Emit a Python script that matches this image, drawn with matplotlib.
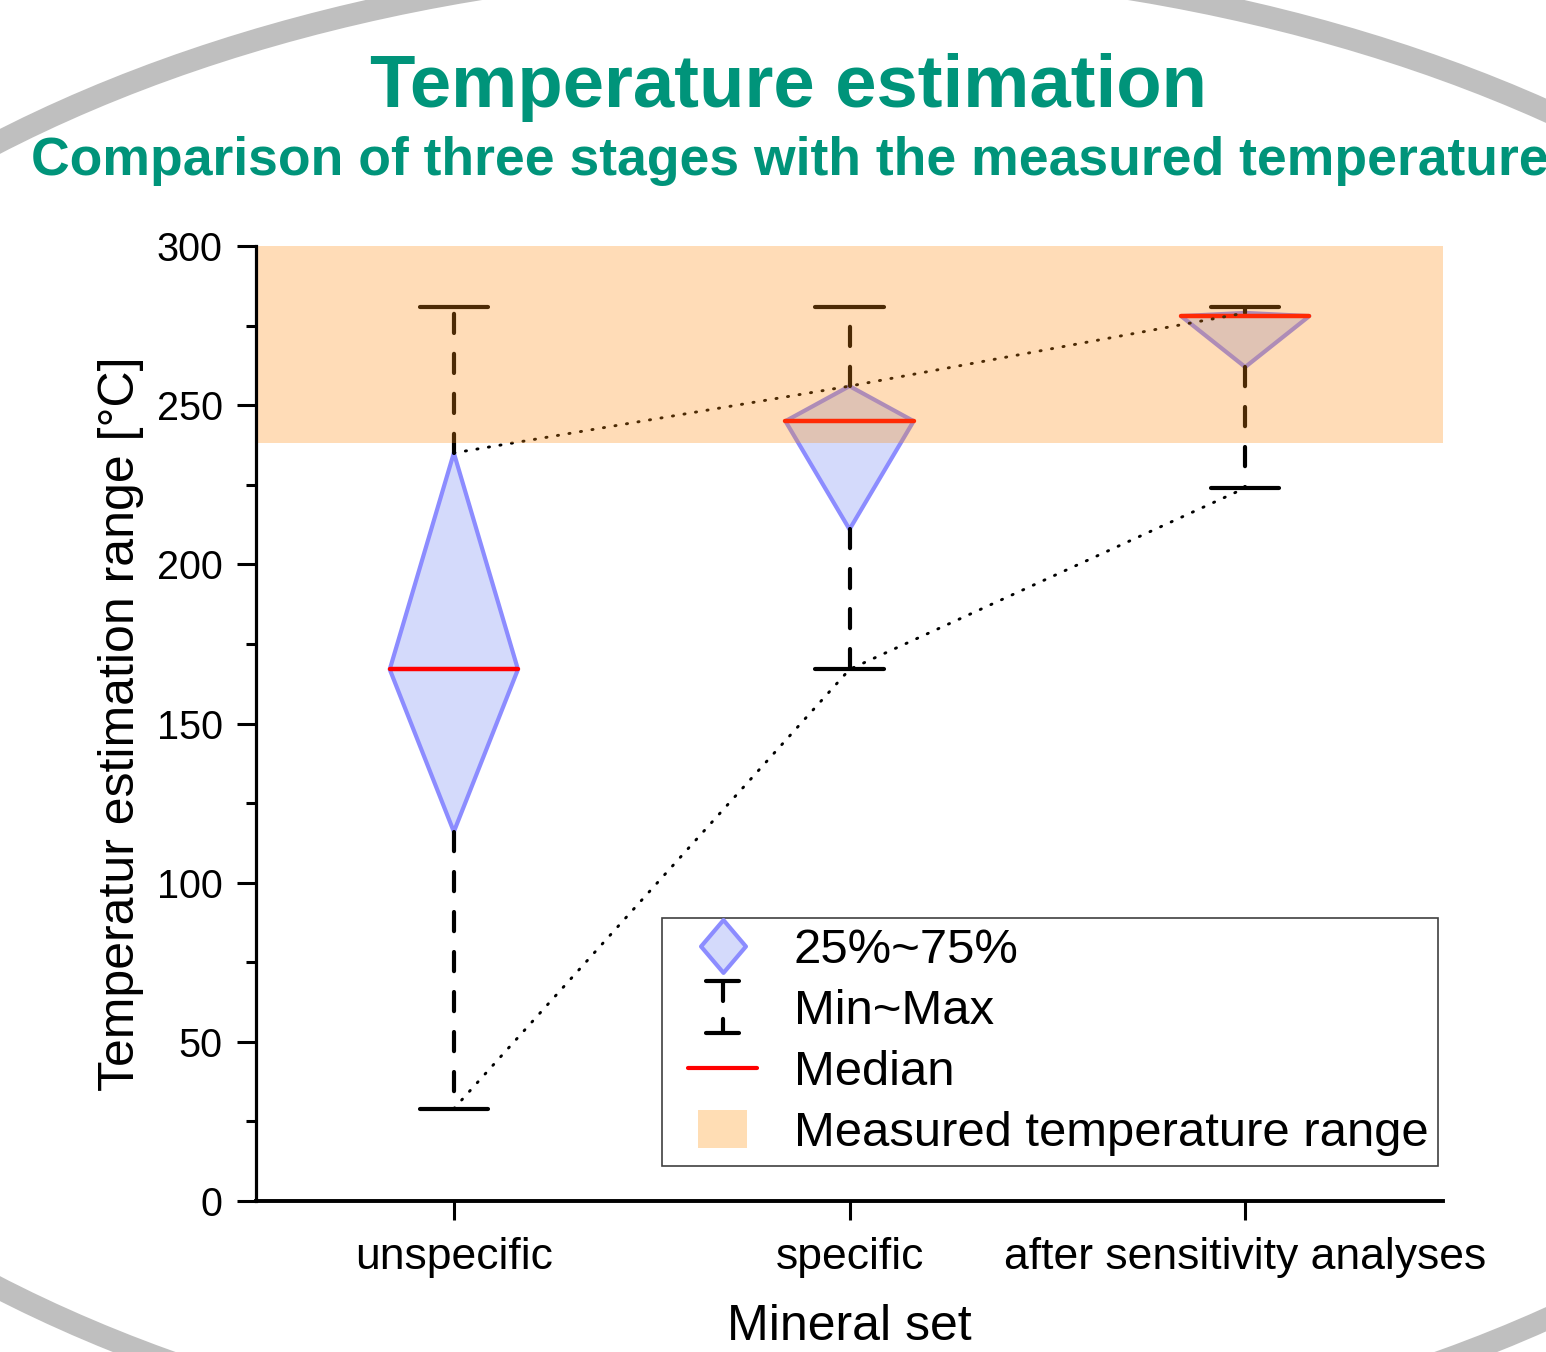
import matplotlib.pyplot as plt
import numpy as np
from matplotlib.patches import Ellipse, Rectangle, Patch
from matplotlib.lines import Line2D
from matplotlib.path import Path
from matplotlib.legend_handler import HandlerBase, HandlerPatch

plt.rcParams['font.family'] = ['Liberation Sans', 'DejaVu Sans']

# estimated temperatures [°C] for each mineral set
stages = ["unspecific", "specific", "after sensitivity analyses"]
t_min = [29, 167, 224]
q1 = [116, 211, 262]
median = [167, 245, 278]
q3 = [235, 256, 279]
t_max = [281, 281, 281]
measured = [238, 300]

teal = "#00947A"
box_face = "#D4DAFB"
box_edge = "#8C8CFF"
band_rgb = (1.0, 0.557, 0.067)


class MinMaxHandler(HandlerBase):
    # whisker symbol: top cap, dashed stem, bottom cap
    def create_artists(self, legend, orig_handle, xdescent, ydescent,
                       width, height, fontsize, trans):
        cx = width / 2 - xdescent
        cy = height / 2 - ydescent
        h, c = 18.5, 12
        kw = dict(color="black", lw=3, solid_capstyle="round", transform=trans)
        top = Line2D([cx - c, cx + c], [cy + h, cy + h], **kw)
        bot = Line2D([cx - c, cx + c], [cy - h, cy - h], **kw)
        stem = Line2D([cx, cx], [cy + h, cy - h], color="black", lw=3,
                      ls=(0, (4.8, 4.3)), dash_capstyle="round", transform=trans)
        return [top, stem, bot]


class MedianHandler(HandlerBase):
    # short red line centred in the handle box
    def create_artists(self, legend, orig_handle, xdescent, ydescent,
                       width, height, fontsize, trans):
        cx = width / 2 - xdescent
        cy = height / 2 - ydescent
        return [Line2D([cx - 24.8, cx + 24.8], [cy, cy], color="red", lw=3,
                       solid_capstyle="round", transform=trans)]


def band_patch(legend, orig_handle, xdescent, ydescent, width, height, fontsize):
    cx = width / 2 - xdescent
    cy = height / 2 - ydescent
    return Rectangle((cx - 17.6, cy - 13.7), 35.2, 27.4)


fig = plt.figure(figsize=(15.46, 13.52), dpi=100)
ax = fig.add_axes([0.1656, 0.1117, 0.7678, 0.7063])
ax.set_facecolor("none")

# grey ring of the slide background
fig.add_artist(Ellipse((805 / 1546, 1 - 715 / 1352), 2 * 1245 / 1546, 2 * 752 / 1352,
                       transform=fig.transFigure, fill=False, ec="#BFBFBF", lw=16, zorder=0))

x = np.arange(1, len(stages) + 1)
hw = 0.162
cw = 0.086
for i, xi in enumerate(x):
    ax.fill([xi - hw, xi, xi + hw, xi], [median[i], q3[i], median[i], q1[i]],
            fc=box_face, ec=box_edge, lw=3, zorder=2, joinstyle="round")
    for a, b in [(q3[i], t_max[i]), (q1[i], t_min[i])]:
        ax.plot([xi, xi], [a, b], color="black", lw=3, ls=(0, (4.6, 5.0)),
                dash_capstyle="round", zorder=2)
    for v in [t_max[i], t_min[i]]:
        ax.plot([xi - cw, xi + cw], [v, v], color="black", lw=3,
                solid_capstyle="round", zorder=2)
    ax.plot([xi - hw, xi + hw], [median[i], median[i]], color="red", lw=3.2,
            solid_capstyle="round", zorder=3)

ax.plot(x, q3, color="black", lw=2.1, ls=(0, (0.4, 3.6)), dash_capstyle="round", zorder=3)
ax.plot(x, t_min, color="black", lw=2.1, ls=(0, (0.4, 3.6)), dash_capstyle="round", zorder=3)

ax.axhspan(measured[0], measured[1], color=band_rgb, alpha=0.3, lw=0, zorder=4)

ax.set_xlim(0.5, 3.5)
ax.set_ylim(0, 300)
ax.spines[["top", "right"]].set_visible(False)
ax.spines["left"].set_linewidth(2.3)
ax.spines["bottom"].set_linewidth(2.8)
for s in ["left", "bottom"]:
    ax.spines[s].set_zorder(5)
ax.set_xticks(x, stages)
ax.set_yticks(np.arange(0, 301, 50))
ax.set_yticks(np.arange(25, 300, 50), minor=True)
ax.tick_params(axis="x", length=14, width=2.2, pad=12, labelsize=32)
ax.tick_params(axis="y", which="major", length=14, width=2.2, pad=10, labelsize=28.5)
ax.tick_params(axis="y", which="minor", length=7, width=2.2)
ax.set_xlabel("Mineral set", fontsize=36, labelpad=19)
ax.set_ylabel("Temperatur estimation range [°C]", fontsize=36, labelpad=9)

diamond = Path([(0, 1), (0.85, 0), (0, -1), (-0.85, 0), (0, 1)],
               [Path.MOVETO, Path.LINETO, Path.LINETO, Path.LINETO, Path.CLOSEPOLY])
h_box = Line2D([], [], marker=diamond, markersize=38, ls="None",
               mfc=box_face, mec=box_edge, mew=3)
h_minmax = object()
h_median = object()
h_band = Patch(fc="#FFDDB4", ec="none")
leg = ax.legend([h_box, h_minmax, h_median, h_band],
                ["25%~75%", "Min~Max", "Median", "Measured temperature range"],
                handler_map={h_minmax: MinMaxHandler(),
                             h_median: MedianHandler(),
                             h_band: HandlerPatch(patch_func=band_patch)},
                loc="upper left", bbox_to_anchor=(662 / 1546, 1 - 918 / 1352),
                bbox_transform=fig.transFigure, borderaxespad=0,
                fontsize=35.3, handlelength=2.07, handletextpad=0.42,
                labelspacing=0.33, borderpad=0.2, fancybox=False,
                edgecolor="#404040", framealpha=1)
leg.get_frame().set_linewidth(1.2)
leg.set_zorder(6)

fig.text(789 / 1546, 1 - 107 / 1352, "Temperature estimation", ha="center",
         va="baseline", fontsize=53.6, fontweight="bold", color=teal)
fig.text(790 / 1546, 1 - 175 / 1352,
         "Comparison of three stages with the measured temperature",
         ha="center", va="baseline", fontsize=38.5, fontweight="bold", color=teal)

fig.savefig("out.png", dpi=100)
